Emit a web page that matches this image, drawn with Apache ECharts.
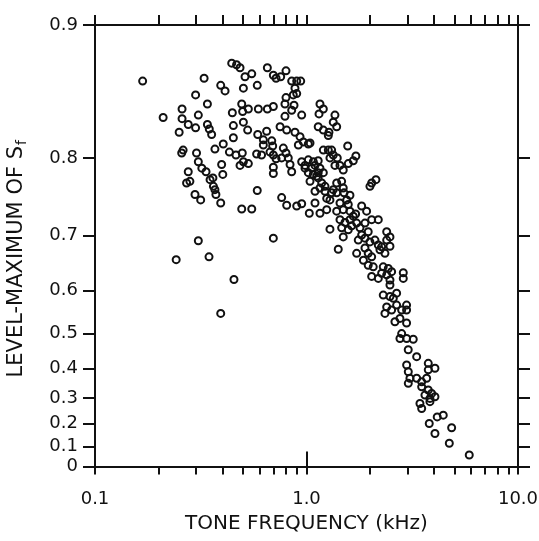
<!DOCTYPE html>
<html>
<head>
<meta charset="utf-8">
<script src="https://cdn.jsdelivr.net/npm/echarts@6/dist/echarts.min.js"></script>
<style>
html,body{margin:0;padding:0;background:#ffffff;}
#chart{width:539px;height:541px;}
</style>
</head>
<body>
<div id="chart"></div>
<script>
// ---- axis ticks / labels ----
const xMajorTicks = [0.1, 1, 10];
const xTickLabels = ['0.1', '1.0', '10.0'];
const xMinorTicks = [0.1, 0.2, 0.3, 0.4, 0.5, 0.6, 0.7, 0.8, 0.9, 1, 2, 3, 4, 5, 6, 7, 8, 9, 10];
const yTickValues = [0, 0.1, 0.2, 0.3, 0.4, 0.5, 0.6, 0.7, 0.8, 0.9];
const yTickLabels = ['0', '0.1', '0.2', '0.3', '0.4', '0.5', '0.6', '0.7', '0.8', '0.9'];

// ---- data: [tone frequency (kHz), level-maximum of Sf] ----
const pointsLowFreq = [
[0.168,0.866],[0.328,0.868],[0.443,0.878],[0.467,0.877],[0.485,0.875],[0.512,0.869],[0.551,0.871],[0.393,0.863],
[0.412,0.859],[0.503,0.861],[0.585,0.863],[0.299,0.856],[0.340,0.849],[0.494,0.849],[0.531,0.845],[0.446,0.842],
[0.499,0.843],[0.592,0.845],[0.258,0.845],[0.308,0.840],[0.210,0.838],[0.258,0.837],[0.276,0.832],[0.299,0.829],
[0.250,0.825],[0.340,0.832],[0.347,0.828],[0.356,0.823],[0.451,0.831],[0.503,0.834],[0.527,0.827],[0.451,0.820],
[0.588,0.823],[0.404,0.814],[0.432,0.806],[0.369,0.809],[0.261,0.808],[0.257,0.805],[0.302,0.805],[0.464,0.803],
[0.497,0.805],[0.503,0.796],[0.485,0.792],[0.531,0.794],[0.581,0.804],[0.308,0.796],[0.320,0.789],[0.335,0.785],
[0.397,0.793],[0.402,0.782],[0.276,0.785],[0.271,0.772],[0.281,0.774],[0.350,0.776],[0.361,0.778],[0.363,0.768],
[0.369,0.764],[0.373,0.758],[0.297,0.758],[0.316,0.751],[0.393,0.747],[0.494,0.739],[0.551,0.739],[0.585,0.763]
];
const pointsNear1kHz = [
[0.653,0.875],[0.697,0.870],[0.718,0.868],[0.755,0.869],[0.800,0.873],[0.851,0.866],[0.899,0.866],[0.939,0.866],
[0.882,0.861],[0.899,0.857],[0.800,0.854],[0.866,0.856],[0.791,0.849],[0.873,0.848],[1.158,0.849],[1.201,0.845],
[1.146,0.841],[1.363,0.840],[1.338,0.834],[1.389,0.830],[0.653,0.845],[0.697,0.847],[0.851,0.844],[0.791,0.839],
[0.949,0.840],[0.750,0.830],[0.806,0.827],[0.882,0.825],[0.932,0.821],[0.966,0.816],[1.020,0.814],[0.915,0.813],
[1.136,0.830],[1.201,0.827],[1.277,0.825],[1.268,0.822],[0.648,0.826],[0.625,0.818],[0.685,0.817],[0.625,0.813],
[0.692,0.812],[0.613,0.803],[0.672,0.806],[0.697,0.803],[0.718,0.799],[0.777,0.810],[0.800,0.805],[0.763,0.800],
[0.820,0.800],[0.836,0.793],[0.851,0.785],[0.697,0.790],[0.697,0.783],[1.566,0.812],[1.201,0.808],[1.315,0.808],
[1.338,0.803],[1.398,0.800],[1.440,0.792],[1.492,0.787],[1.576,0.794],[1.664,0.797],[1.712,0.802],[0.949,0.796],
[0.984,0.792],[1.020,0.798],[1.058,0.789],[1.136,0.797],[1.158,0.789],[1.201,0.784],[1.077,0.782],[1.020,0.784],
[1.136,0.778],[1.180,0.772],[1.039,0.774],[1.158,0.766],[1.223,0.762],[1.246,0.753],[1.315,0.760],[1.389,0.772],
[1.466,0.774],[1.492,0.766],[1.504,0.760],[1.549,0.751],[1.605,0.757],[1.440,0.747],[1.576,0.745],[1.823,0.743],
[2.033,0.772],[2.130,0.776],[0.763,0.754],[0.806,0.744],[0.899,0.743],[0.949,0.746],[1.097,0.747],[1.031,0.733],
[1.158,0.733],[1.246,0.738],[1.389,0.736],[1.605,0.736],[1.707,0.732]
];
const pointsCore = [
[1.039,0.815],[1.077,0.796],[0.984,0.789],[1.136,0.784],[1.097,0.762],[1.223,0.768],[1.268,0.808],[1.291,0.800],
[1.363,0.792],[1.338,0.764],[1.389,0.760],[1.291,0.751],[1.097,0.792],[1.117,0.780],[1.995,0.768]
];
const pointsMidFreq = [
[1.291,0.710],[1.413,0.678],[1.492,0.738],[1.440,0.724],[1.520,0.720],[1.605,0.724],[1.664,0.729],[1.466,0.712],
[1.576,0.709],[1.635,0.715],[1.726,0.719],[1.790,0.712],[1.924,0.736],[2.033,0.724],[2.185,0.724],[1.890,0.719],
[1.492,0.698],[1.823,0.701],[1.757,0.693],[1.890,0.696],[1.958,0.706],[1.995,0.690],[2.107,0.693],[2.185,0.685],
[2.394,0.706],[2.481,0.698],[2.394,0.693],[2.266,0.682],[2.481,0.683],[1.726,0.671],[1.890,0.680],[1.958,0.671],
[2.033,0.665],[1.858,0.659],[1.958,0.650],[2.068,0.647],[2.225,0.677],[2.349,0.671],[2.306,0.647],[2.436,0.644],
[2.266,0.635],[2.394,0.632],[2.526,0.638],[2.481,0.622],[2.481,0.612],[2.033,0.629],[2.185,0.625],[2.868,0.636],
[2.868,0.625],[2.306,0.591],[2.481,0.588],[2.668,0.595]
];
const pointsHighFreq = [
[2.573,0.584],[2.394,0.565],[2.526,0.558],[2.668,0.569],[2.818,0.558],[2.973,0.569],[2.973,0.558],[2.349,0.550],
[2.619,0.530],[2.766,0.538],[2.973,0.527],[2.818,0.500],[2.766,0.487],[2.975,0.487],[3.197,0.485],[3.027,0.456],
[3.318,0.436],[2.975,0.411],[3.029,0.390],[3.084,0.369],[3.029,0.352],[3.318,0.369],[3.504,0.357],[3.699,0.369],
[3.765,0.416],[4.049,0.401],[3.765,0.396],[3.504,0.340],[3.765,0.329],[3.631,0.311],[3.906,0.317],[4.049,0.305],
[3.834,0.299],[3.439,0.280],[3.504,0.261],[3.834,0.287],[3.805,0.201],[4.150,0.228],[4.432,0.235],[4.049,0.158],
[4.856,0.183],[4.734,0.114],[5.882,0.058]
];
const pointsSparse = [
[0.308,0.692],[0.242,0.660],[0.346,0.665],[0.697,0.696],[0.454,0.623],[0.393,0.550]
];

// ---- level axis scale: position proportional to -log10(1 - level) ----
function levelToAxis(v) { return Math.round(-Math.log10(1 - v) * 1e9) / 1e9; }
const yTickPos = yTickValues.map(levelToAxis);

function yLabel(value) {
  let best = 0, bd = Infinity;
  yTickPos.forEach((p, i) => { const d = Math.abs(p - value); if (d < bd) { bd = d; best = i; } });
  return yTickLabels[best];
}
function xLabel(value) {
  let best = 0, bd = Infinity;
  xMajorTicks.forEach((p, i) => { const d = Math.abs(Math.log10(p) - Math.log10(value)); if (d < bd) { bd = d; best = i; } });
  return xTickLabels[best];
}

const allPoints = [].concat(pointsLowFreq, pointsNear1kHz, pointsCore, pointsMidFreq, pointsHighFreq, pointsSparse)
  .map(p => [p[0], levelToAxis(p[1])]);

const FONT = 'DejaVu Sans';
const INK = '#111111';
const lineStyle = { color: INK, width: 2 };

const chart = echarts.init(document.getElementById('chart'), null, { renderer: 'canvas' });
chart.setOption({
  animation: false,
  backgroundColor: '#ffffff',
  grid: { left: 95, right: 21, top: 25, bottom: 74.5, containLabel: false, outerBoundsMode: 'none' },
  xAxis: [
    {
      type: 'log', logBase: 10, min: 0.1, max: 10, position: 'bottom',
      name: 'TONE FREQUENCY (kHz)', nameLocation: 'middle', nameGap: 45,
      nameTextStyle: { fontFamily: FONT, fontSize: 20, color: INK },
      axisLine: { show: true, onZero: false, lineStyle: lineStyle },
      axisTick: { show: true, inside: false, length: 8, customValues: xMinorTicks, lineStyle: lineStyle },
      axisLabel: { show: true, customValues: xMajorTicks, formatter: xLabel, margin: 24,
                   fontFamily: FONT, fontSize: 18, color: INK },
      splitLine: { show: false }, minorTick: { show: false }, minorSplitLine: { show: false }
    },
    {
      type: 'log', logBase: 10, min: 0.1, max: 10, position: 'top',
      axisLine: { show: true, onZero: false, lineStyle: lineStyle },
      axisTick: { show: true, inside: false, length: 10, customValues: xMinorTicks, lineStyle: lineStyle },
      axisLabel: { show: false },
      splitLine: { show: false }
    },
    {
      type: 'log', logBase: 10, min: 0.1, max: 10, position: 'top',
      axisLine: { show: false },
      axisTick: { show: true, inside: false, length: 15, customValues: xMajorTicks, lineStyle: lineStyle },
      axisLabel: { show: false },
      splitLine: { show: false }
    }
  ],
  yAxis: [
    {
      type: 'value', min: 0, max: 1, position: 'left',
      name: 'LEVEL-MAXIMUM OF S{sub|f}', nameLocation: 'middle', nameRotate: 90, nameGap: 66,
      nameTextStyle: { fontFamily: FONT, fontSize: 21, color: INK, padding: [0, 26, 0, 0],
        rich: { sub: { fontFamily: FONT, fontSize: 14, color: INK, padding: [10, 0, 0, 1] } } },
      axisLine: { show: true, onZero: false, lineStyle: lineStyle },
      axisTick: { show: true, inside: false, length: 12, customValues: yTickPos, lineStyle: lineStyle },
      axisLabel: { show: true, customValues: yTickPos, formatter: yLabel, margin: 17,
                   fontFamily: FONT, fontSize: 18, color: INK },
      splitLine: { show: false }
    },
    {
      type: 'value', min: 0, max: 1, position: 'right',
      axisLine: { show: true, onZero: false, lineStyle: lineStyle },
      axisTick: { show: true, inside: false, length: 12, customValues: yTickPos, lineStyle: lineStyle },
      axisLabel: { show: false },
      splitLine: { show: false }
    }
  ],
  series: [{
    type: 'scatter',
    xAxisIndex: 0, yAxisIndex: 0,
    data: allPoints,
    symbol: 'circle',
    symbolSize: 7,
    itemStyle: { color: 'rgba(255,255,255,0)', borderColor: INK, borderWidth: 2, opacity: 1 },
    emphasis: { disabled: true },
    silent: true
  }]
});
</script>
</body>
</html>
